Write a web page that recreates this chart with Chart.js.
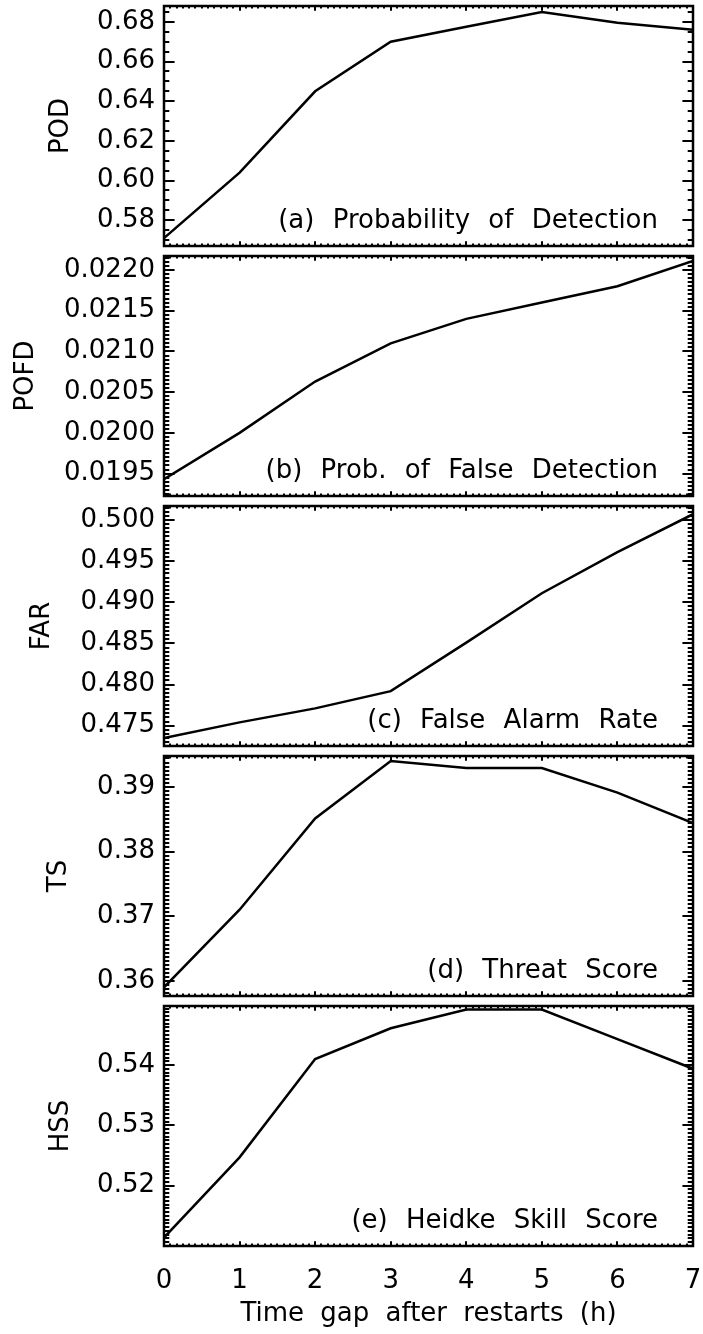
<!DOCTYPE html>
<html>
<head>
<meta charset="utf-8">
<script src="https://cdn.jsdelivr.net/npm/chart.js@4.4.1/dist/chart.umd.min.js"></script>
<style>
  html, body { margin: 0; padding: 0; background: #fff; }
  #wrap { position: relative; width: 703px; height: 1334px; }
  .panel { position: absolute; left: 0; width: 703px; }
</style>
</head>
<body>
<div id="wrap">
  <div class="panel" style="top:0;height:250px"><canvas id="cPod"></canvas></div>
  <div class="panel" style="top:250px;height:250px"><canvas id="cPofd"></canvas></div>
  <div class="panel" style="top:500px;height:250px"><canvas id="cFar"></canvas></div>
  <div class="panel" style="top:750px;height:250px"><canvas id="cTs"></canvas></div>
  <div class="panel" style="top:1000px;height:334px"><canvas id="cHss"></canvas></div>
</div>
<script>
(function () {
  "use strict";

  // data
  const hours = [0, 1, 2, 3, 4, 5, 6, 7];
  const podValues  = [0.571, 0.604, 0.645, 0.670, 0.6775, 0.685, 0.6795, 0.676];
  const pofdValues = [0.01943, 0.0200, 0.02063, 0.0211, 0.0214, 0.0216, 0.0218, 0.02211];
  const farValues  = [0.4735, 0.4754, 0.4771, 0.4792, 0.4851, 0.4911, 0.4961, 0.5007];
  const tsValues   = [0.3590, 0.3710, 0.3851, 0.3940, 0.3929, 0.3929, 0.3891, 0.3844];
  const hssValues  = [0.5114, 0.5247, 0.5410, 0.5461, 0.5492, 0.5492, 0.5443, 0.5394];

  // tick labels
  const podTicks  = [0.58, 0.60, 0.62, 0.64, 0.66, 0.68];
  const pofdTicks = [0.0195, 0.0200, 0.0205, 0.0210, 0.0215, 0.0220];
  const farTicks  = [0.475, 0.480, 0.485, 0.490, 0.495, 0.500];
  const tsTicks   = [0.36, 0.37, 0.38, 0.39];
  const hssTicks  = [0.52, 0.53, 0.54];

  const FONT = "DejaVu Sans";
  Chart.defaults.font.family = FONT;
  Chart.defaults.color = "#000";

  // IDL-style frame with inward major/minor ticks + panel label
  const idlFrame = {
    id: "idlFrame",
    beforeDraw(chart) { chart.ctx.wordSpacing = "8px"; },
    afterDatasetsDraw(chart, args, opts) {
      const { ctx, chartArea: a, scales: { x, y } } = chart;
      const yLen = a.width * 0.02, xLen = a.height * 0.02;
      ctx.save();
      ctx.strokeStyle = "#000";
      ctx.lineWidth = 2;
      ctx.beginPath();
      // y ticks, left + right
      const k0 = Math.ceil(y.min / opts.yMinor - 1e-6), k1 = Math.floor(y.max / opts.yMinor + 1e-6);
      for (let k = k0; k <= k1; k++) {
        const v = k * opts.yMinor;
        const major = opts.yTicks.some(t => Math.abs(t - v) < opts.yMinor / 10);
        const len = major ? yLen : yLen / 2;
        const py = Math.round(y.getPixelForValue(v));
        ctx.moveTo(a.left, py); ctx.lineTo(a.left + len, py);
        ctx.moveTo(a.right, py); ctx.lineTo(a.right - len, py);
      }
      // x ticks, top + bottom
      for (let k = 0; k <= 7 * 12; k++) {
        const v = k / 12;
        const len = k % 12 === 0 ? xLen : xLen / 2;
        const px = Math.round(x.getPixelForValue(v));
        ctx.moveTo(px, a.top); ctx.lineTo(px, a.top + len);
        ctx.moveTo(px, a.bottom); ctx.lineTo(px, a.bottom - len);
      }
      ctx.stroke();
      ctx.lineWidth = 2.5;
      ctx.strokeRect(a.left, a.top, a.width, a.height);
      // panel label
      ctx.font = "26px '" + FONT + "'";
      ctx.wordSpacing = "10px";
      ctx.fillStyle = "#000";
      ctx.textAlign = "right";
      ctx.textBaseline = "middle";
      ctx.fillText(opts.label, a.right - 35, a.bottom - 25);
      ctx.restore();
    }
  };

  function makePanel(id, values, ticks, min, max, digits, minor, title, titlePad, label, showX) {
    const ctx = document.getElementById(id);
    if (!ctx) return;
    new Chart(ctx, {
      type: "line",
      data: {
        datasets: [{
          data: hours.map((h, i) => ({ x: h, y: values[i] })),
          borderColor: "#000",
          borderWidth: 2.5,
          pointRadius: 0,
          tension: 0,
          fill: false,
        }],
      },
      options: {
        responsive: true,
        maintainAspectRatio: false,
        animation: false,
        layout: { padding: { top: 6, bottom: showX ? 0 : 4, left: 0, right: 10 } },
        plugins: {
          legend: { display: false },
          tooltip: { enabled: false },
          idlFrame: { yMinor: minor, yTicks: ticks, label: label },
        },
        scales: {
          x: {
            type: "linear",
            min: 0,
            max: 7,
            display: showX,
            afterBuildTicks(s) { s.ticks = hours.map(v => ({ value: v })); },
            afterFit(s) {
              if (showX) s.height = 88;
              s.paddingLeft = 0; s.paddingRight = 0;
            },
            grid: { display: false, drawTicks: false },
            border: { display: false },
            ticks: { padding: 20, maxRotation: 0, autoSkip: false, font: { size: 26 } },
            title: {
              display: showX,
              text: "Time gap after restarts (h)",
              font: { size: 26 },
              padding: { top: 0, bottom: 4 },
            },
          },
          y: {
            min: min,
            max: max,
            afterFit(s) { s.width = 164; s.paddingTop = 0; s.paddingBottom = 0; },
            afterBuildTicks(s) { s.ticks = ticks.map(v => ({ value: v })); },
            grid: { display: false, drawTicks: false },
            border: { display: false },
            ticks: { padding: 9, font: { size: 26 }, callback: v => v.toFixed(digits) },
            title: { display: true, text: title, font: { size: 26 }, padding: { top: titlePad, bottom: 0 } },
          },
        },
      },
      plugins: [idlFrame],
    });
  }

  makePanel("cPod", podValues, podTicks, 0.567, 0.688, 2, 0.005, "POD", 46,
    "(a) Probability of Detection", false);
  makePanel("cPofd", pofdValues, pofdTicks, 0.019225, 0.022172, 4, 0.00005, "POFD", 11,
    "(b) Prob. of False Detection", false);
  makePanel("cFar", farValues, farTicks, 0.47253, 0.5017, 3, 0.0005, "FAR", 27,
    "(c) False Alarm Rate", false);
  makePanel("cTs", tsValues, tsTicks, 0.35767, 0.39476, 2, 0.000625, "TS", 44,
    "(d) Threat Score", false);
  makePanel("cHss", hssValues, hssTicks, 0.510, 0.5498, 2, 0.000625, "HSS", 46,
    "(e) Heidke Skill Score", true);
})();
</script>
</body>
</html>
